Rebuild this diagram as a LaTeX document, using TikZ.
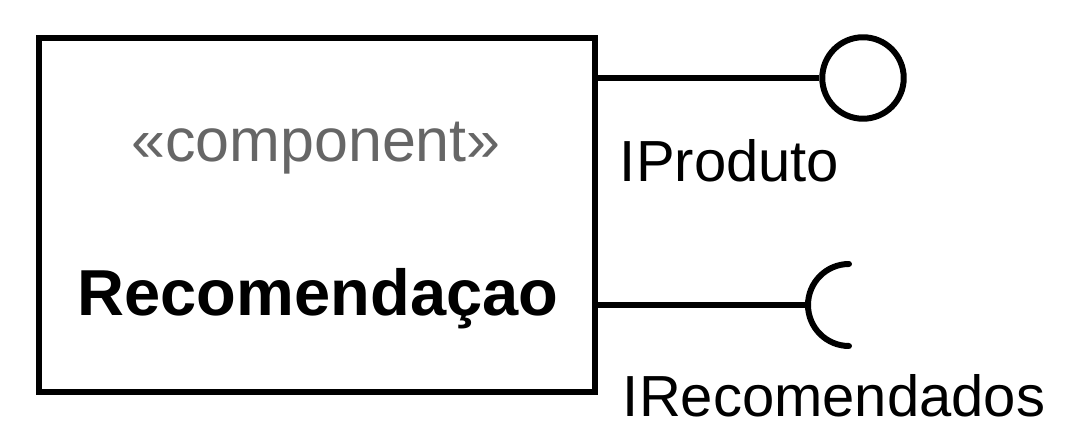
\documentclass[tikz,border=0pt]{standalone}
\usepackage{fontspec}
\setmainfont{Liberation Sans}
\definecolor{stereogray}{HTML}{666666}

\begin{document}
\begin{tikzpicture}[x=0.02cm,y=0.02cm,line width=3.4pt,
  label/.style={inner sep=0pt,font=\fontsize{33}{40}\selectfont}]
  \useasboundingbox (0,0) rectangle (1082,-448);

  \node[draw=black,minimum width=11.12cm,minimum height=7.08cm,inner sep=0pt] (comp) at (317,-215) {};
  \node[anchor=base,inner sep=0pt,text=stereogray,font=\fontsize{34.7}{40}\selectfont] (stereo) at (316,-162) {«component»};
  \node[anchor=base,inner sep=0pt,font=\fontsize{37}{44}\selectfont\bfseries] (name) at (318,-316) {Recomendaçao};

  \node[draw=black,circle,minimum size=1.63cm,inner sep=0pt] (prov) at (863,-78) {};
  \coordinate (req) at (808,-305);

  \draw (comp.east |- prov) -- (prov.west);
  \draw (comp.east |- req) -- (req);
  \draw[line cap=round] (req) ++(41,41) arc[start angle=90,end angle=270,radius=41];

  \node[label,anchor=base west] (iprod) at (617,-182) {IProduto};
  \node[label,anchor=base west] (irec) at (620,-417) {IRecomendados};
\end{tikzpicture}
\end{document}
